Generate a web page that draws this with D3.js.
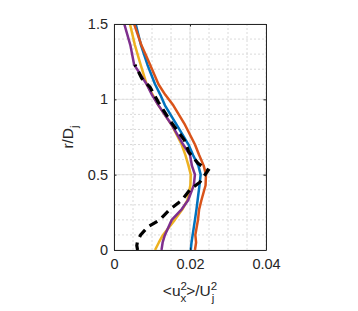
<!DOCTYPE html>
<html>
<head>
<meta charset="utf-8">
<script src="https://cdn.jsdelivr.net/npm/d3@7"></script>
<style>
    body { margin: 0; background: #fff; }
    .chart text { font-family: "Liberation Sans", Arial, Helvetica, sans-serif; fill: #262626; }
</style>
</head>
<body>
<div class="chart"></div>
<script>
(function(){
    // radial positions r/Dj for the four coloured profiles
    var rProfile = [0, 0.05, 0.1, 0.2, 0.27, 0.33, 0.43, 0.5, 0.56, 0.63, 0.7, 0.83, 0.96, 1.03, 1.1, 1.23, 1.36, 1.5];
    var blueVals   = [0.0202, 0.0204, 0.0207, 0.0213, 0.0217, 0.0220, 0.0225, 0.0228, 0.0222, 0.0208, 0.0196, 0.0165, 0.0134, 0.0122, 0.0108, 0.0088, 0.0071, 0.0057];
    var orangeVals = [0.0213, 0.0216, 0.0214, 0.0221, 0.0224, 0.0230, 0.0241, 0.0242, 0.0236, 0.0224, 0.0213, 0.0187, 0.0156, 0.0135, 0.0117, 0.0095, 0.0072, 0.0053];
    var yellowVals = [0.0108, 0.0118, 0.0129, 0.0160, 0.0180, 0.0193, 0.0201, 0.0202, 0.0196, 0.0188, 0.0178, 0.0152, 0.0117, 0.0102, 0.0086, 0.0070, 0.0055, 0.0042];
    var purpleVals = [0.0125, 0.0128, 0.0134, 0.0152, 0.0178, 0.0195, 0.0210, 0.0213, 0.0205, 0.0200, 0.0182, 0.0152, 0.0117, 0.0100, 0.0086, 0.0053, 0.0043, 0.0027];

    // dashed black reference profile
    var rDashed = [1.23, 1.14, 1.08, 0.98, 0.86, 0.73, 0.65, 0.575, 0.53, 0.49, 0.45, 0.40, 0.33, 0.27, 0.20, 0.155, 0.10, 0.06, 0.03, 0];
    var dashedVals = [0.0055, 0.0073, 0.0095, 0.0117, 0.0147, 0.0185, 0.0197, 0.0221, 0.0248, 0.0237, 0.0226, 0.0200, 0.0178, 0.0147, 0.0120, 0.0090, 0.0070, 0.0062, 0.0060, 0.0062];

    var xTicks = [0, 0.02, 0.04];
    var yTicks = [0, 0.5, 1, 1.5];
    var xTickLabels = ["0", "0.02", "0.04"];
    var yTickLabels = ["0", "0.5", "1", "1.5"];

    var series = [
        {name: "blue",   color: "#0072BD", values: blueVals},
        {name: "orange", color: "#D95319", values: orangeVals},
        {name: "yellow", color: "#EDB120", values: yellowVals},
        {name: "purple", color: "#7E2F8E", values: purpleVals}
    ];

    var margin = {top: 24, right: 92, bottom: 61, left: 114};
    var containerWidth = 358, containerHeight = 311;
    var width = containerWidth - margin.left - margin.right;
    var height = containerHeight - margin.top - margin.bottom;

    var x = d3.scaleLinear().domain([0, 0.04]).range([0, width]);
    var y = d3.scaleLinear().domain([0, 1.5]).range([height, 0]);

    var svg = d3.select(".chart").append("svg")
        .attr("width", containerWidth)
        .attr("height", containerHeight);

    var g = svg.append("g")
        .attr("transform", "translate(" + margin.left + "," + margin.top + ")");

    g.append("clipPath").attr("id", "plotClip")
        .append("rect").attr("width", width).attr("height", height);

    // minor grid (dotted)
    var grid = g.append("g").attr("class", "grid");
    grid.selectAll(".xminor").data(d3.range(0.005, 0.04, 0.005)).enter()
        .append("line")
        .attr("x1", function(d){ return x(d); }).attr("x2", function(d){ return x(d); })
        .attr("y1", 0).attr("y2", height)
        .attr("stroke", "#d0d0d0").attr("stroke-width", 0.8).attr("stroke-dasharray", "2,2");
    grid.selectAll(".yminor").data(d3.range(0.1, 1.5, 0.1)).enter()
        .append("line")
        .attr("x1", 0).attr("x2", width)
        .attr("y1", function(d){ return y(d); }).attr("y2", function(d){ return y(d); })
        .attr("stroke", "#d0d0d0").attr("stroke-width", 0.8).attr("stroke-dasharray", "2,2");
    // major grid
    grid.selectAll(".xmajor").data(xTicks).enter()
        .append("line")
        .attr("x1", function(d){ return x(d); }).attr("x2", function(d){ return x(d); })
        .attr("y1", 0).attr("y2", height)
        .attr("stroke", "#dedede").attr("stroke-width", 0.8);
    grid.selectAll(".ymajor").data(yTicks).enter()
        .append("line")
        .attr("x1", 0).attr("x2", width)
        .attr("y1", function(d){ return y(d); }).attr("y2", function(d){ return y(d); })
        .attr("stroke", "#dedede").attr("stroke-width", 0.8);

    // profiles
    var plot = g.append("g").attr("clip-path", "url(#plotClip)");
    series.forEach(function(s){
        var line = d3.line()
            .x(function(d){ return x(d); })
            .y(function(d, i){ return y(rProfile[i]); });
        plot.append("path")
            .datum(s.values)
            .attr("fill", "none")
            .attr("stroke", s.color)
            .attr("stroke-width", 2.5)
            .attr("stroke-linejoin", "round")
            .attr("d", line);
    });

    var dashLine = d3.line()
        .x(function(d){ return x(d); })
        .y(function(d, i){ return y(rDashed[i]); });
    plot.append("path")
        .datum(dashedVals)
        .attr("fill", "none")
        .attr("stroke", "#000")
        .attr("stroke-width", 3.2)
        .attr("stroke-dasharray", "9,6")
        .attr("stroke-dashoffset", 7)
        .attr("d", dashLine);

    // Axes: ticks inward on all four sides (box on)
    var tickLen = 2.5;
    g.append("g")
        .attr("class", "axis x-axis")
        .attr("transform", "translate(0," + height + ")")
        .call(d3.axisBottom(x).tickValues(xTicks)
            .tickFormat(function(d, i){ return xTickLabels[i]; })
            .tickSizeInner(-tickLen).tickSizeOuter(0).tickPadding(9));
    g.append("g")
        .attr("class", "axis y-axis")
        .call(d3.axisLeft(y).tickValues(yTicks)
            .tickFormat(function(d, i){ return yTickLabels[i]; })
            .tickSizeInner(-tickLen).tickSizeOuter(0).tickPadding(6));
    g.append("g")
        .call(d3.axisTop(x).tickValues(xTicks).tickFormat("").tickSizeInner(-tickLen).tickSizeOuter(0));
    g.append("g")
        .attr("transform", "translate(" + width + ",0)")
        .call(d3.axisRight(y).tickValues(yTicks).tickFormat("").tickSizeInner(-tickLen).tickSizeOuter(0));

    g.selectAll(".domain").attr("stroke", "#262626").attr("stroke-width", 1);
    g.selectAll(".tick line").attr("stroke", "#262626");
    g.selectAll(".axis text").attr("font-size", 14.5).attr("fill", "#262626");

    // axis labels
    var xLabel = svg.append("text")
        .attr("x", margin.left + width / 2)
        .attr("y", 296)
        .attr("text-anchor", "middle")
        .attr("font-size", 15.5);
    xLabel.append("tspan").text("<u");
    xLabel.append("tspan").attr("font-size", 11.5).attr("dy", -6.5).text("2");
    xLabel.append("tspan").attr("font-size", 11.5).attr("dx", -6.5).attr("dy", 12).text("x");
    xLabel.append("tspan").attr("dy", -5.5).text(">/U");
    xLabel.append("tspan").attr("font-size", 11.5).attr("dy", -6.5).text("2");
    xLabel.append("tspan").attr("font-size", 11.5).attr("dx", -5.5).attr("dy", 12).text("j");

    var yLabel = svg.append("text")
        .attr("transform", "translate(73," + (margin.top + height / 2) + ") rotate(-90)")
        .attr("text-anchor", "middle")
        .attr("font-size", 15.5);
    yLabel.append("tspan").text("r/D");
    yLabel.append("tspan").attr("font-size", 11.5).attr("dy", 5).text("j");
}());
</script>
</body>
</html>
